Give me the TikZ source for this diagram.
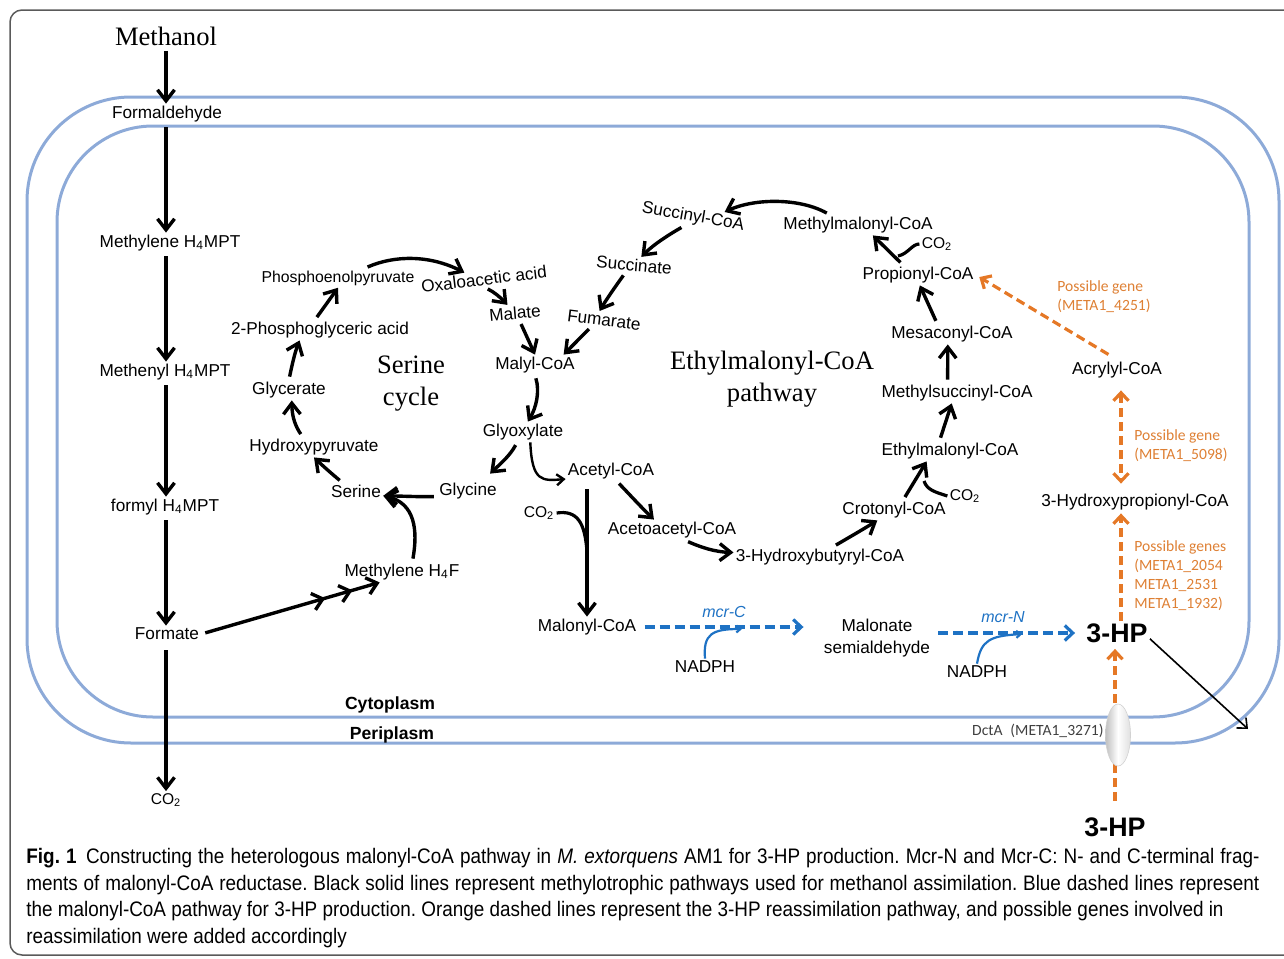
\documentclass[tikz,border=0pt]{standalone}
\usepackage{graphicx}
\usepackage{fontspec}
\setmainfont{Liberation Sans}
\newfontfamily\timesfont{Liberation Serif}
\newfontfamily\calfont{Carlito}
\usetikzlibrary{arrows.meta,shapes.geometric}
\frenchspacing

\definecolor{membblue}{RGB}{141,170,216}
\definecolor{mcrblue}{RGB}{30,114,196}
\definecolor{reorange}{RGB}{229,120,38}
\definecolor{geneorange}{RGB}{222,128,52}
\definecolor{framegray}{RGB}{90,90,90}

\tikzset{
  met/.style={font=\fontsize{8.6}{10}\selectfont, inner sep=1pt},
  metsm/.style={font=\fontsize{7.9}{9}\selectfont, inner sep=1pt},
  co2/.style={font=\fontsize{7.8}{9}\selectfont, inner sep=1pt},
  title/.style={font=\timesfont\fontsize{13.3}{16}\selectfont, align=center, inner sep=1pt},
  product/.style={font=\bfseries\fontsize{13.4}{15}\selectfont, inner sep=1pt},
  region/.style={font=\bfseries\fontsize{8.8}{10}\selectfont, inner sep=1pt},
  enzyme/.style={font=\itshape\fontsize{8}{9}\selectfont, text=mcrblue, inner sep=1pt},
  gene/.style={font=\calfont\fontsize{7.8}{9.5}\selectfont, text=geneorange, align=left, anchor=west, inner sep=0pt},
  flux/.style={line width=1.7pt, ->, shorten <=1.5pt},
  thinflux/.style={line width=1.2pt, -{Straight Barb[length=3.5pt,width=5.5pt]}},
  feed/.style={line width=1.6pt},
  mcr/.style={mcrblue, line width=1.6pt, dash pattern=on 5pt off 2.5pt, -{Straight Barb[length=4pt,width=7.5pt]}},
  cofac/.style={mcrblue, line width=1.1pt, -{Straight Barb[length=2pt,width=3.5pt]}},
  reass/.style={reorange, line width=1.6pt, dash pattern=on 4.5pt off 2.5pt, >={Straight Barb[length=4pt,width=7.5pt]}, ->},
  memb/.style={membblue, line width=1.5pt},
  porin/.style={ellipse, minimum width=12.5pt, minimum height=31pt, inner sep=0pt, left color=gray!50, right color=gray!25, middle color=white, draw=gray!35, line width=0.3pt}
}

\begin{document}
\begin{tikzpicture}[x=0.5pt, y=-0.5pt, >={Straight Barb[length=5.5pt,width=8.5pt]}]
\useasboundingbox (0,0) rectangle (1284,958);
% frame and membranes
\draw[framegray, line width=0.75pt, rounded corners=6pt] (1300,10) -- (10,10) -- (10,955) -- (1300,955);
\draw[memb, rounded corners=52pt] (27,97) rectangle (1279,743);
\draw[memb, rounded corners=48pt] (57,126) rectangle (1249,717);

% methanol oxidation
\node[title] (meth) at (166,36) {Methanol};
\node[met] (form) at (167,114) {Formaldehyde};
\node[met] (mlh) at (170,243) {Methylene H\textsubscript{4}MPT};
\node[met] (mnh) at (165,372) {Methenyl H\textsubscript{4}MPT};
\node[met] (fmh) at (165,507) {formyl H\textsubscript{4}MPT};
\node[met] (fmt) at (167,634) {Formate};
\node[co2] (co2a) at (166,800) {CO\textsubscript{2}};
\draw[flux] (meth.south) -- (meth.south |- form.north);
\draw[flux] (meth.south |- form.south) -- (meth.south |- mlh.north);
\draw[flux] (meth.south |- mlh.south) -- (meth.south |- mnh.north);
\draw[flux] (meth.south |- mnh.south) -- (meth.south |- fmh.north);
\draw[flux] (meth.south |- fmh.south) -- (meth.south |- fmt.north);
\draw[flux, shorten <=4pt] (meth.south |- fmt.south) -- (meth.south |- co2a.north);

% serine cycle
\node[metsm] (pep) at (338,278) {Phosphoenolpyruvate};
\node[met, rotate=7] (oaa) at (484,279) {Oxaloacetic acid};
\node[met, rotate=5] (mal) at (515,313) {Malate};
\node[met] (mcoa) at (535,365) {Malyl-CoA};
\node[met] (glx) at (523,432) {Glyoxylate};
\node[met] (gly) at (468,491) {Glycine};
\node[met] (ser) at (356,491) {Serine};
\node[met] (hpyr) at (314,447) {Hydroxypyruvate};
\node[met] (glyc) at (289,390) {Glycerate};
\node[met] (pga) at (320,330) {2-Phosphoglyceric acid};
\node[met] (mh4f) at (402,572) {Methylene H\textsubscript{4}F};
\node[title] (sercyc) at (411,384) {Serine\\cycle};
\draw[flux] (ser.148) .. controls (332,474) and (323,466) .. (hpyr.south);
\draw[flux] (hpyr.138) .. controls (296,427) and (292,418) .. (glyc.-75);
\draw[flux] (glyc.north) .. controls (292,365) and (295,352) .. (pga.-153);
\draw[flux] (pga.115) -- (pep.south);
\draw[flux] (pep.20) .. controls (395,255) and (430,255) .. (oaa.155);
\draw[flux] (oaa.south) .. controls (494,292) and (500,297) .. (mal.128);
\draw[flux] (mal.-65) -- (mcoa.north);
\draw[flux] (mcoa.south) .. controls (540,392) and (536,408) .. (glx.65);
\draw[flux, shorten >=5pt] (glx.-120) .. controls (510,456) and (498,466) .. (gly.35);
\draw[flux] (gly.190) .. controls (420,497) and (402,496) .. (ser.-10);
\draw[flux] (mh4f.45) .. controls (418,530) and (415,503) .. (ser.-10);
\draw[line width=1.7pt, shorten <=2pt, -{Straight Barb[length=5pt,width=8.5pt,sep=7pt]Straight Barb[length=5pt,width=8.5pt,sep=7pt]Straight Barb[length=5pt,width=8.5pt]}] (fmt.east) -- (mh4f.-155);

% ethylmalonyl-CoA pathway
\node[met] (acoa) at (611,471) {Acetyl-CoA};
\node[met] (aacoa) at (672,530) {Acetoacetyl-CoA};
\node[met] (hbcoa) at (820,557) {3-Hydroxybutyryl-CoA};
\node[met] (crcoa) at (894,510) {Crotonyl-CoA};
\node[co2] (co2c) at (965,496) {CO\textsubscript{2}};
\node[met] (emcoa) at (950,451) {Ethylmalonyl-CoA};
\node[met] (msucoa) at (957,393) {Methylsuccinyl-CoA};
\node[met] (mescoa) at (952,334) {Mesaconyl-CoA};
\node[met] (pcoa) at (918,275) {Propionyl-CoA};
\node[co2] (co2b) at (937,244) {CO\textsubscript{2}};
\node[met] (mmcoa) at (858,225) {Methylmalonyl-CoA};
\node[met, rotate=-10] (sucoa) at (693,217) {Succinyl-CoA};
\node[met, rotate=-5] (succ) at (634,265) {Succinate};
\node[met, rotate=-7] (fum) at (604,320) {Fumarate};
\node[title] (emcp) at (772,379) {Ethylmalonyl-CoA\\pathway};
\coordinate (jb) at (898,256);
\coordinate (jc) at (924,481);
\draw[thinflux] (glx.-55) .. controls (532,482) and (542,481) .. (acoa.-170);
\draw[flux] (acoa.-60) .. controls (630,495) and (642,508) .. (aacoa.150);
\draw[flux] (aacoa.-38) .. controls (700,547) and (715,552) .. (hbcoa.177);
\draw[flux] (hbcoa.38) .. controls (848,538) and (862,530) .. (crcoa.-148);
\draw[flux] (crcoa.48) -- (emcoa.-156);
\draw[feed] (co2c.west) .. controls (935,492) and (927,490) .. (jc);
\draw[flux] (emcoa.135) -- (msucoa.-117);
\draw[flux] (msucoa.132) -- (mescoa.-112);
\draw[flux] (mescoa.145) -- (pcoa.-80);
\draw[flux] (pcoa.146) -- (mmcoa.-35);
\draw[feed] (co2b.west) .. controls (912,244) and (908,254) .. (jb);
\draw[flux] (mmcoa.160) .. controls (800,198) and (755,198) .. (sucoa.19);
\draw[flux] (sucoa.-125) .. controls (670,234) and (654,244) .. (succ.53);
\draw[flux] (succ.-133) .. controls (615,287) and (606,300) .. (fum.123);
\draw[flux] (fum.-145) -- (mcoa.20);

% malonyl-CoA pathway
\node[met] (malcoa) at (587,627) {Malonyl-CoA};
\node[co2] (co2d) at (539,513) {CO\textsubscript{2}};
\node[met, align=center, font=\fontsize{8.6}{11}\selectfont] (msa) at (877,638) {Malonate\\semialdehyde};
\node[product] (hp) at (1117,633) {3-HP};
\node[enzyme] (mcrc) at (724,612) {mcr-C};
\node[enzyme] (mcrn) at (1003,617) {mcr-N};
\node[met] (nadph1) at (705,667) {NADPH};
\node[met] (nadph2) at (977,672) {NADPH};
\coordinate (jd) at (587,552);
\coordinate (j1) at (742,629);
\coordinate (j2) at (1022,634);
\draw[flux, shorten <=4pt] (acoa.south -| malcoa.north) -- (malcoa.north);
\draw[feed] (co2d.east) .. controls (577,510) and (585,522) .. (jd);
\draw[mcr, shorten <=3pt, shorten >=9pt] (malcoa.east) -- (malcoa.east -| msa.west);
\draw[cofac] (nadph1.north) .. controls (703,634) and (712,629) .. (j1);
\draw[mcr, shorten <=3pt, shorten >=4.5pt] (msa.east |- hp.west) -- (hp.west);
\draw[cofac] (nadph2.north) .. controls (981,640) and (990,636) .. (j2);

% 3-HP reassimilation
\node[met] (acry) at (1117,370) {Acrylyl-CoA};
\node[met] (hpcoa) at (1135,502) {3-Hydroxypropionyl-CoA};
\node[product] (hpout) at (1115,827) {3-HP};
\node[gene] (gen1) at (1057,297) {Possible gene\\(META1\_4251)};
\node[gene] (gen2) at (1134,446) {Possible gene\\(META1\_5098)};
\node[gene] (gen3) at (1134,576) {Possible genes\\(META1\_2054\\META1\_2531\\META1\_1932)};
\coordinate (outpt) at (1248,729);
\draw[reass, shorten <=5pt, shorten >=2pt] (acry.north) -- (pcoa.east);
\draw[reass, <->, shorten <=5pt, shorten >=4pt] ([xshift=2pt]acry.south) -- ([xshift=2pt]acry.south |- hpcoa.north);
\draw[reass, shorten >=0.5pt] ([xshift=2pt]hp.north) -- ([xshift=2pt]hp.north |- hpcoa.south);
\draw[reass, shorten <=7pt, shorten >=2pt] (hpout.north) -- (hpout.north |- hp.south);
\draw[line width=0.8pt, -{Straight Barb[length=4pt,width=7pt]}] (hp.-10) -- (outpt);
\node[porin] (porin) at (1118,735) {};

% compartments
\node[region] (cyto) at (390,705) {Cytoplasm};
\node[region] (peri) at (392,735) {Periplasm};
\node[font=\calfont\fontsize{7.8}{9}\selectfont, text=black!75, anchor=east, inner sep=0pt] (dcta) at (1104,731) {DctA\enspace(META1\_3271)};

% caption
\node[anchor=north west, inner sep=0pt, font=\fontsize{10.5}{13.25}\selectfont] (capt) at (26,848)
  {\scalebox{0.9}[1]{\parbox{685pt}{\hyphenpenalty=10000\exhyphenpenalty=10000
  \textbf{Fig.~1}\enspace Constructing the heterologous malonyl-CoA pathway in \textit{M.~extorquens} AM1 for 3-HP production. Mcr-N and Mcr-C: N- and C-terminal frag-\linebreak
  ments of malonyl-CoA reductase. Black solid lines represent methylotrophic pathways used for methanol assimilation. Blue dashed lines represent\linebreak
  the malonyl-CoA pathway for 3-HP production. Orange dashed lines represent the 3-HP reassimilation pathway, and possible genes involved in\\
  reassimilation were added accordingly}}};
\end{tikzpicture}
\end{document}
